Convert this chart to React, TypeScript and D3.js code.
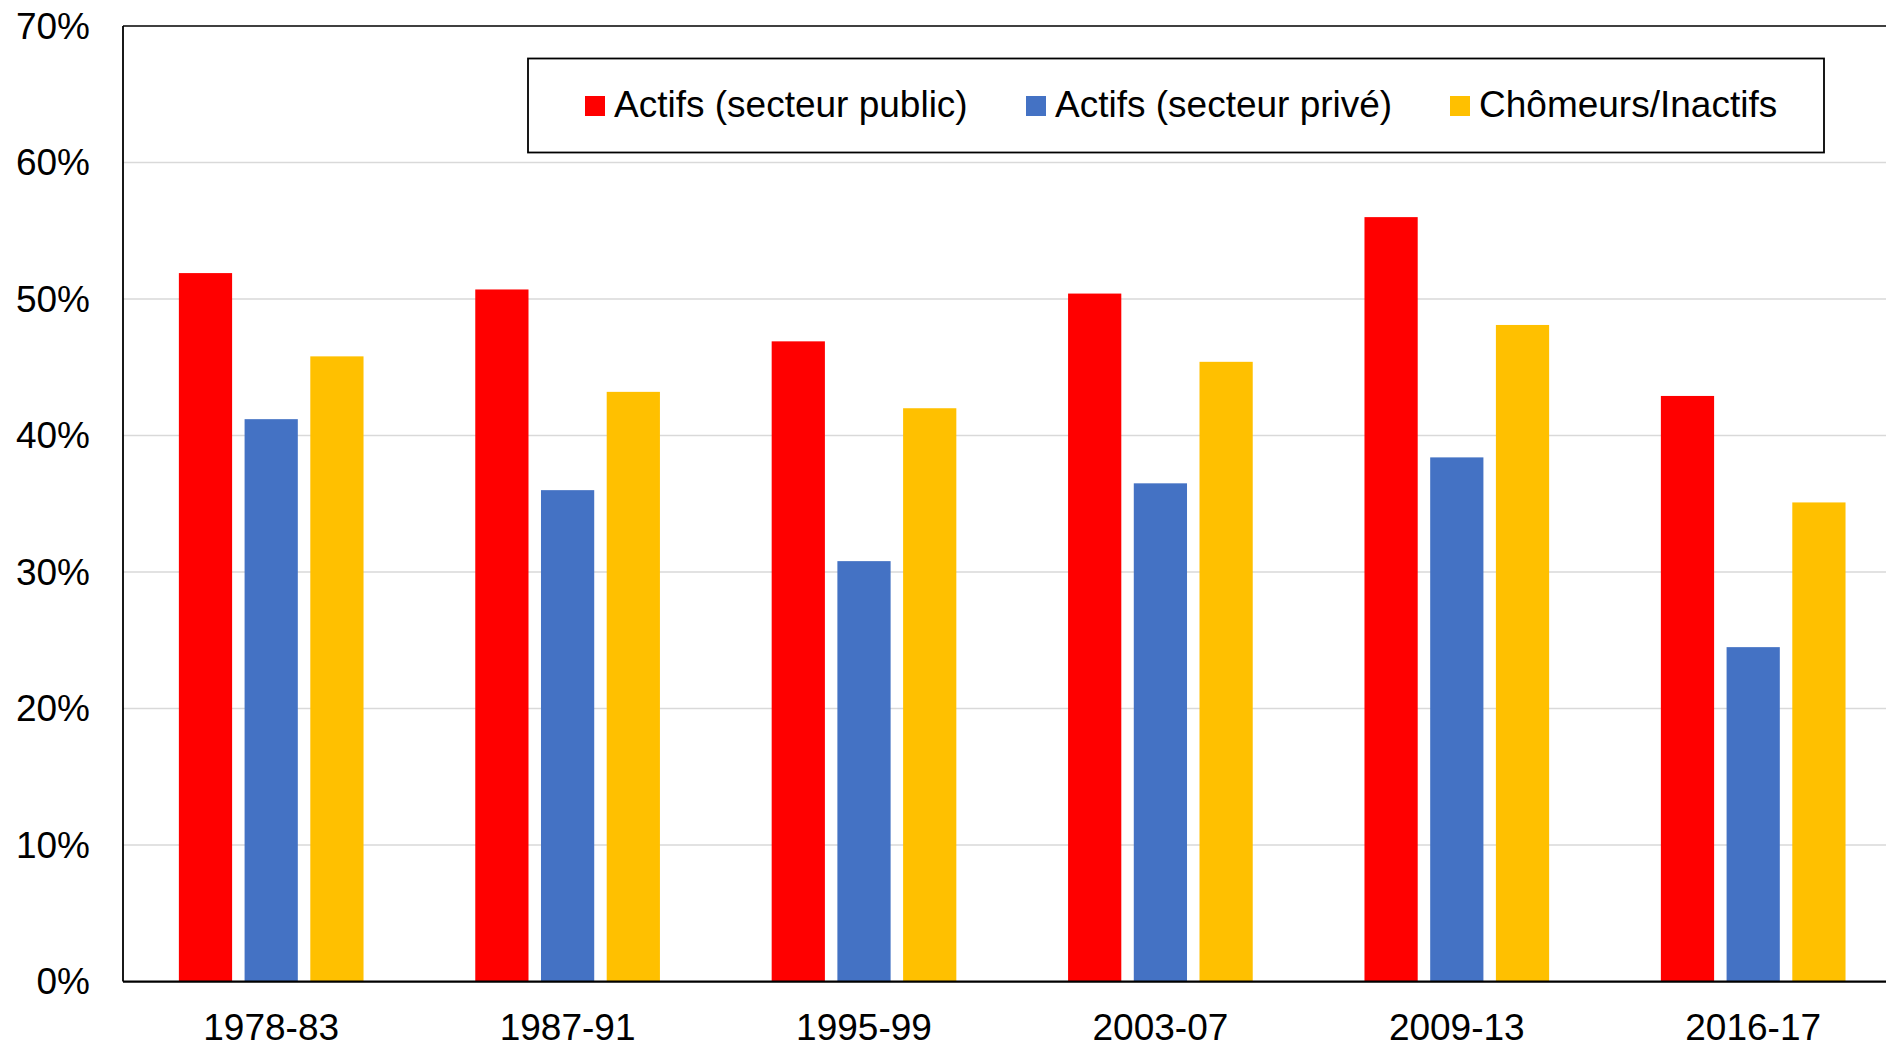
import React from "react";
import * as d3 from "d3";

const categories = ["1978-83", "1987-91", "1995-99", "2003-07", "2009-13", "2016-17"];
const seriesNames = ["Actifs (secteur public)", "Actifs (secteur privé)", "Chômeurs/Inactifs"];
const seriesColors = ["#FF0000", "#4472C4", "#FFC000"];
const publicValues = [51.9, 50.7, 46.9, 50.4, 56.0, 42.9];
const privateValues = [41.2, 36.0, 30.8, 36.5, 38.4, 24.5];
const inactiveValues = [45.8, 43.2, 42.0, 45.4, 48.1, 35.1];
const yTicks = [0, 10, 20, 30, 40, 50, 60, 70];

const W = 1886;
const H = 1043;
const FONT = "'Liberation Sans', Arial, Helvetica, sans-serif";

export default function App() {
  const left = 123;
  const top = 26;
  const bottom = 981.6;
  const right = left + 6 * 296.4;

  const y = d3.scaleLinear().domain([0, 70]).range([bottom, top]);
  const x0 = d3
    .scaleBand<string>()
    .domain(categories)
    .range([left, right])
    .paddingInner(0.377)
    .paddingOuter(0.1885);
  const x1 = d3
    .scaleBand<string>()
    .domain(seriesNames)
    .range([0, x0.bandwidth()])
    .paddingInner(0.19)
    .paddingOuter(0);

  const seriesValues = [publicValues, privateValues, inactiveValues];

  const legendSwatchX = [585, 1026, 1450];

  return (
    <svg
      width={W}
      height={H}
      style={{ position: "absolute", left: 0, top: 0, background: "#fff" }}
      fontFamily={FONT}
    >
      <rect x={0} y={0} width={W} height={H} fill="#fff" />
      {/* gridlines */}
      {yTicks
        .filter((t) => t > 0 && t < 70)
        .map((t) => (
          <line
            key={"g" + t}
            x1={left}
            x2={W}
            y1={y(t)}
            y2={y(t)}
            stroke="#D9D9D9"
            strokeWidth={1.5}
          />
        ))}
      {/* bars */}
      {categories.map((c, i) => (
        <g key={c} transform={`translate(${x0(c)},0)`}>
          {seriesNames.map((s, k) => (
            <rect
              key={s}
              x={x1(s)}
              y={y(seriesValues[k][i])}
              width={x1.bandwidth()}
              height={y(0) - y(seriesValues[k][i])}
              fill={seriesColors[k]}
            />
          ))}
        </g>
      ))}
      {/* plot border */}
      <line x1={left} x2={W} y1={top} y2={top} stroke="#000" strokeWidth={1.5} />
      <line x1={left} x2={left} y1={top} y2={bottom} stroke="#000" strokeWidth={1.8} />
      <line x1={left} x2={W} y1={bottom} y2={bottom} stroke="#000" strokeWidth={2.2} />
      {/* y tick labels */}
      {yTicks.map((t) => (
        <text
          key={"yl" + t}
          x={90}
          y={y(t)}
          textAnchor="end"
          dominantBaseline="central"
          fontSize={37}
          fill="#000"
        >
          {t + "%"}
        </text>
      ))}
      {/* x labels */}
      {categories.map((c) => (
        <text
          key={"xl" + c}
          x={(x0(c) as number) + x0.bandwidth() / 2}
          y={1040}
          textAnchor="middle"
          fontSize={37}
          fill="#000"
        >
          {c}
        </text>
      ))}
      {/* legend */}
      <rect x={528} y={58.5} width={1296} height={94} fill="#fff" stroke="#000" strokeWidth={1.8} />
      {seriesNames.map((s, k) => (
        <g key={"lg" + s}>
          <rect x={legendSwatchX[k]} y={96} width={20} height={20} fill={seriesColors[k]} />
          <text
            x={legendSwatchX[k] + 29}
            y={116.5}
            fontSize={37}
            fill="#000"
          >
            {s}
          </text>
        </g>
      ))}
    </svg>
  );
}
